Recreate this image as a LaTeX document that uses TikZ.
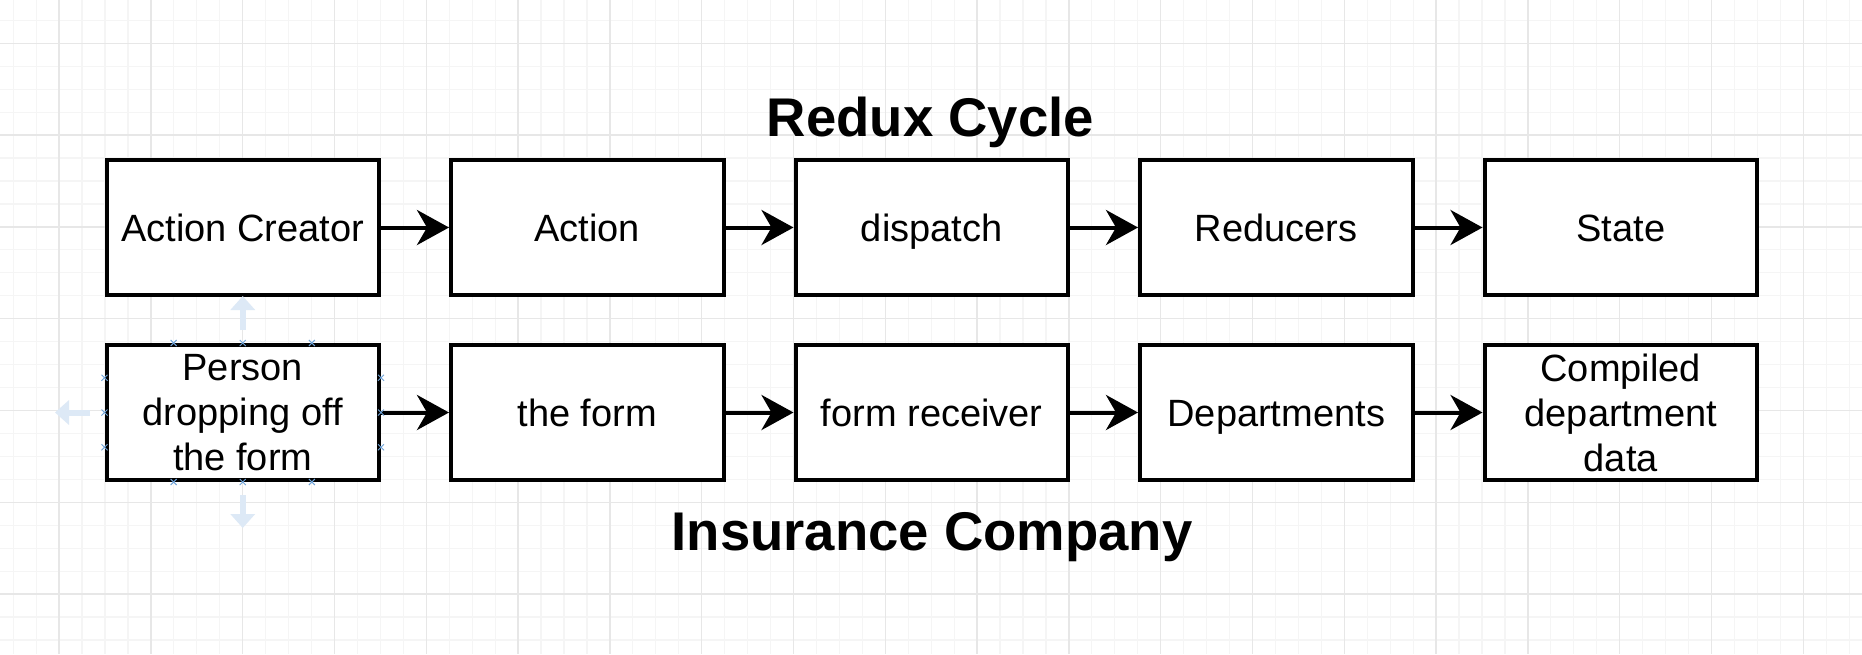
\documentclass[tikz,border=0pt]{standalone}
\usepackage{fontspec}
\setmainfont{Liberation Sans}
\usetikzlibrary{arrows.meta,calc}
\definecolor{gridminor}{HTML}{F5F5F5}
\definecolor{gridmajor}{HTML}{E7E7E7}
\definecolor{paleblue}{HTML}{DDE9F6}
\definecolor{handleblue}{HTML}{6FA3D8}
\tikzset{
  stepbox/.style={draw=black, line width=4pt, fill=white, minimum width=272.5pt, minimum height=135pt,
    inner sep=0pt, align=center, font=\fontsize{38}{45}\selectfont},
  oneline/.style={stepbox, text height=27.2pt, text depth=0pt},
  flowarrow/.style={draw=black, line width=4pt, -{Stealth[length=32pt, width=35pt, inset=10pt]}},
  title/.style={anchor=base, font=\fontsize{54.5}{60}\selectfont\bfseries},
  ghostarrow/.style={draw=paleblue, line width=6pt, -{Triangle[length=14pt, width=24pt]}},
  handle/.style={draw=handleblue, line width=1pt}
}
\begin{document}
\begin{tikzpicture}[x=1pt, y=-1pt]
\useasboundingbox (0,0) rectangle (1862,654);
\fill[white] (0,0) rectangle (1862,654);
% grid
\foreach \i in {-2,...,79} {\draw[gridminor, line width=1.2pt] ({59.1+22.95*\i},0) -- ({59.1+22.95*\i},654);}
\foreach \i in {-1,...,27} {\draw[gridminor, line width=1.2pt] (0,{43.3+22.95*\i}) -- (1862,{43.3+22.95*\i});}
\foreach \i in {0,...,19} {\draw[gridmajor, line width=1.4pt] ({59.1+91.8*\i},0) -- ({59.1+91.8*\i},654);}
\foreach \i in {0,...,6} {\draw[gridmajor, line width=1.4pt] (0,{43.3+91.8*\i}) -- (1862,{43.3+91.8*\i});}

% titles
\node[title] (t1) at (930.4,136.6) {Redux Cycle};
\node[title] (t2) at (932,550) {Insurance Company};

% row 1
\node[oneline] (a1) at (242.75,227.5) {Action Creator};
\node[oneline] (a2) at (587.25,227.5) {Action};
\node[oneline] (a3) at (931.75,227.5) {dispatch};
\node[oneline] (a4) at (1276.25,227.5) {Reducers};
\node[oneline] (a5) at (1620.75,227.5) {State};

% row 2
\node[stepbox] (b1) at (242.75,412.5) {Person\\dropping off\\the form};
\node[oneline] (b2) at (587.25,412.5) {the form};
\node[oneline] (b3) at (931.75,412.5) {form receiver};
\node[oneline] (b4) at (1276.25,412.5) {Departments};
\node[stepbox] (b5) at (1620.75,412.5) {Compiled\\department\\data};

% arrows
\draw[flowarrow] (a1.east) -- (a2.west);
\draw[flowarrow] (a2.east) -- (a3.west);
\draw[flowarrow] (a3.east) -- (a4.west);
\draw[flowarrow] (a4.east) -- (a5.west);
\draw[flowarrow] (b1.east) -- (b2.west);
\draw[flowarrow] (b2.east) -- (b3.west);
\draw[flowarrow] (b3.east) -- (b4.west);
\draw[flowarrow] (b4.east) -- (b5.west);

% faint selection overlay on the first box of row 2
\coordinate (upS) at (242.75,330);
\coordinate (upE) at (242.75,296);
\coordinate (lfS) at (90,412.5);
\coordinate (lfE) at (55,412.5);
\coordinate (dnS) at (242.75,495);
\coordinate (dnE) at (242.75,528);
\draw[ghostarrow] (upS) -- (upE);
\draw[ghostarrow] (lfS) -- (lfE);
\draw[ghostarrow] (dnS) -- (dnE);
\foreach \f in {0.25,0.5,0.75} {
  \draw[handle] ($(b1.north west)!\f!(b1.north east)$) ++(-3,-3) -- ++(6,6) ++(0,-6) -- ++(-6,6);
  \draw[handle] ($(b1.south west)!\f!(b1.south east)$) ++(-3,-3) -- ++(6,6) ++(0,-6) -- ++(-6,6);
  \draw[handle] ($(b1.north west)!\f!(b1.south west)$) ++(-3,-3) -- ++(6,6) ++(0,-6) -- ++(-6,6);
  \draw[handle] ($(b1.north east)!\f!(b1.south east)$) ++(-3,-3) -- ++(6,6) ++(0,-6) -- ++(-6,6);
}
\end{tikzpicture}
\end{document}
